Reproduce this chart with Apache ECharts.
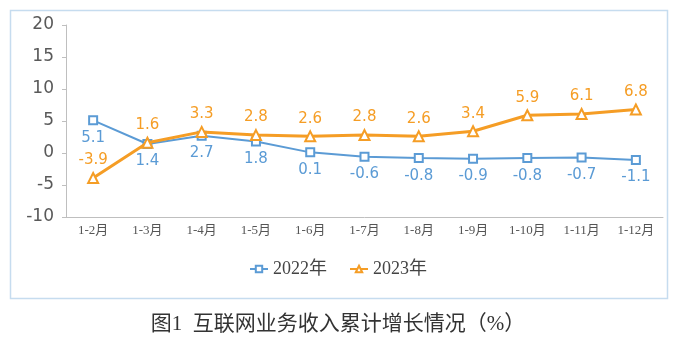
<!DOCTYPE html>
<html>
<head>
<meta charset="utf-8">
<script src="https://cdn.jsdelivr.net/npm/echarts@6/dist/echarts.min.js"></script>
<style>
  html, body { margin: 0; padding: 0; background: #fff; }
  #chart { width: 676px; height: 339px; }
</style>
</head>
<body>
<div id="chart"></div>
<script>
// Cumulative growth of internet business revenue (%)
const categories = ['1-2月', '1-3月', '1-4月', '1-5月', '1-6月', '1-7月', '1-8月', '1-9月', '1-10月', '1-11月', '1-12月'];
const values2022 = [5.1, 1.4, 2.7, 1.8, 0.1, -0.6, -0.8, -0.9, -0.8, -0.7, -1.1];
const values2023 = [-3.9, 1.6, 3.3, 2.8, 2.6, 2.8, 2.6, 3.4, 5.9, 6.1, 6.8];
const seriesNames = ['2022年', '2023年'];
const titleText = '图1  互联网业务收入累计增长情况（%）';

const blue = '#5b9bd5';
const orange = '#f59d25';
const serif = '"Liberation Serif", "Noto Sans CJK SC", serif';
const sans = '"DejaVu Sans", Verdana, sans-serif';

const chart = echarts.init(document.getElementById('chart'), null, { renderer: 'canvas' });
chart.setOption({
  animation: false,
  backgroundColor: '#fff',
  title: {
    text: titleText,
    left: 'center',
    top: 309,
    textStyle: { fontFamily: serif, fontSize: 21, fontWeight: 'normal', color: '#333' }
  },
  graphic: [{
    type: 'rect',
    shape: { x: 10.5, y: 10.5, width: 657, height: 288 },
    style: { fill: 'none', stroke: '#c6dcef', lineWidth: 1.5 },
    silent: true,
    z: -1
  }],
  legend: {
    top: 255,
    left: 'center',
    itemGap: 22,
    itemWidth: 18,
    itemHeight: 8,
    textStyle: { fontFamily: serif, fontSize: 18, color: '#444' },
    data: seriesNames
  },
  grid: { left: 66, right: 13, top: 25, bottom: 122 },
  xAxis: {
    type: 'category',
    data: categories,
    boundaryGap: true,
    axisLine: { onZero: false, lineStyle: { color: '#bfbfbf', width: 1 } },
    axisTick: { show: false },
    axisLabel: { fontFamily: serif, fontSize: 13, color: '#555', margin: 7 }
  },
  yAxis: {
    type: 'value',
    min: -10,
    max: 20,
    interval: 5,
    splitLine: { show: false },
    axisLine: { show: true, lineStyle: { color: '#bfbfbf', width: 1 } },
    axisTick: { show: true, inside: false, length: 4, lineStyle: { color: '#bfbfbf' } },
    axisLabel: { fontFamily: sans, fontSize: 17, color: '#595959', margin: 12 }
  },
  series: [
    {
      name: seriesNames[0],
      type: 'line',
      data: values2022,
      symbol: 'rect',
      symbolSize: 8,
      showAllSymbol: true,
      lineStyle: { color: blue, width: 2 },
      itemStyle: { color: '#fff', borderColor: blue, borderWidth: 2 },
      label: {
        show: true,
        position: 'bottom',
        distance: 5,
        fontFamily: sans,
        fontSize: 15,
        color: blue,
        formatter: p => p.value.toFixed(1)
      },
      z: 2
    },
    {
      name: seriesNames[1],
      type: 'line',
      data: values2023,
      symbol: 'triangle',
      symbolSize: 10,
      showAllSymbol: true,
      lineStyle: { color: orange, width: 3 },
      itemStyle: { color: '#fff', borderColor: orange, borderWidth: 2 },
      label: {
        show: true,
        position: 'top',
        distance: 4,
        fontFamily: sans,
        fontSize: 15,
        color: orange,
        formatter: p => p.value.toFixed(1)
      },
      z: 3
    }
  ]
});
</script>
</body>
</html>
